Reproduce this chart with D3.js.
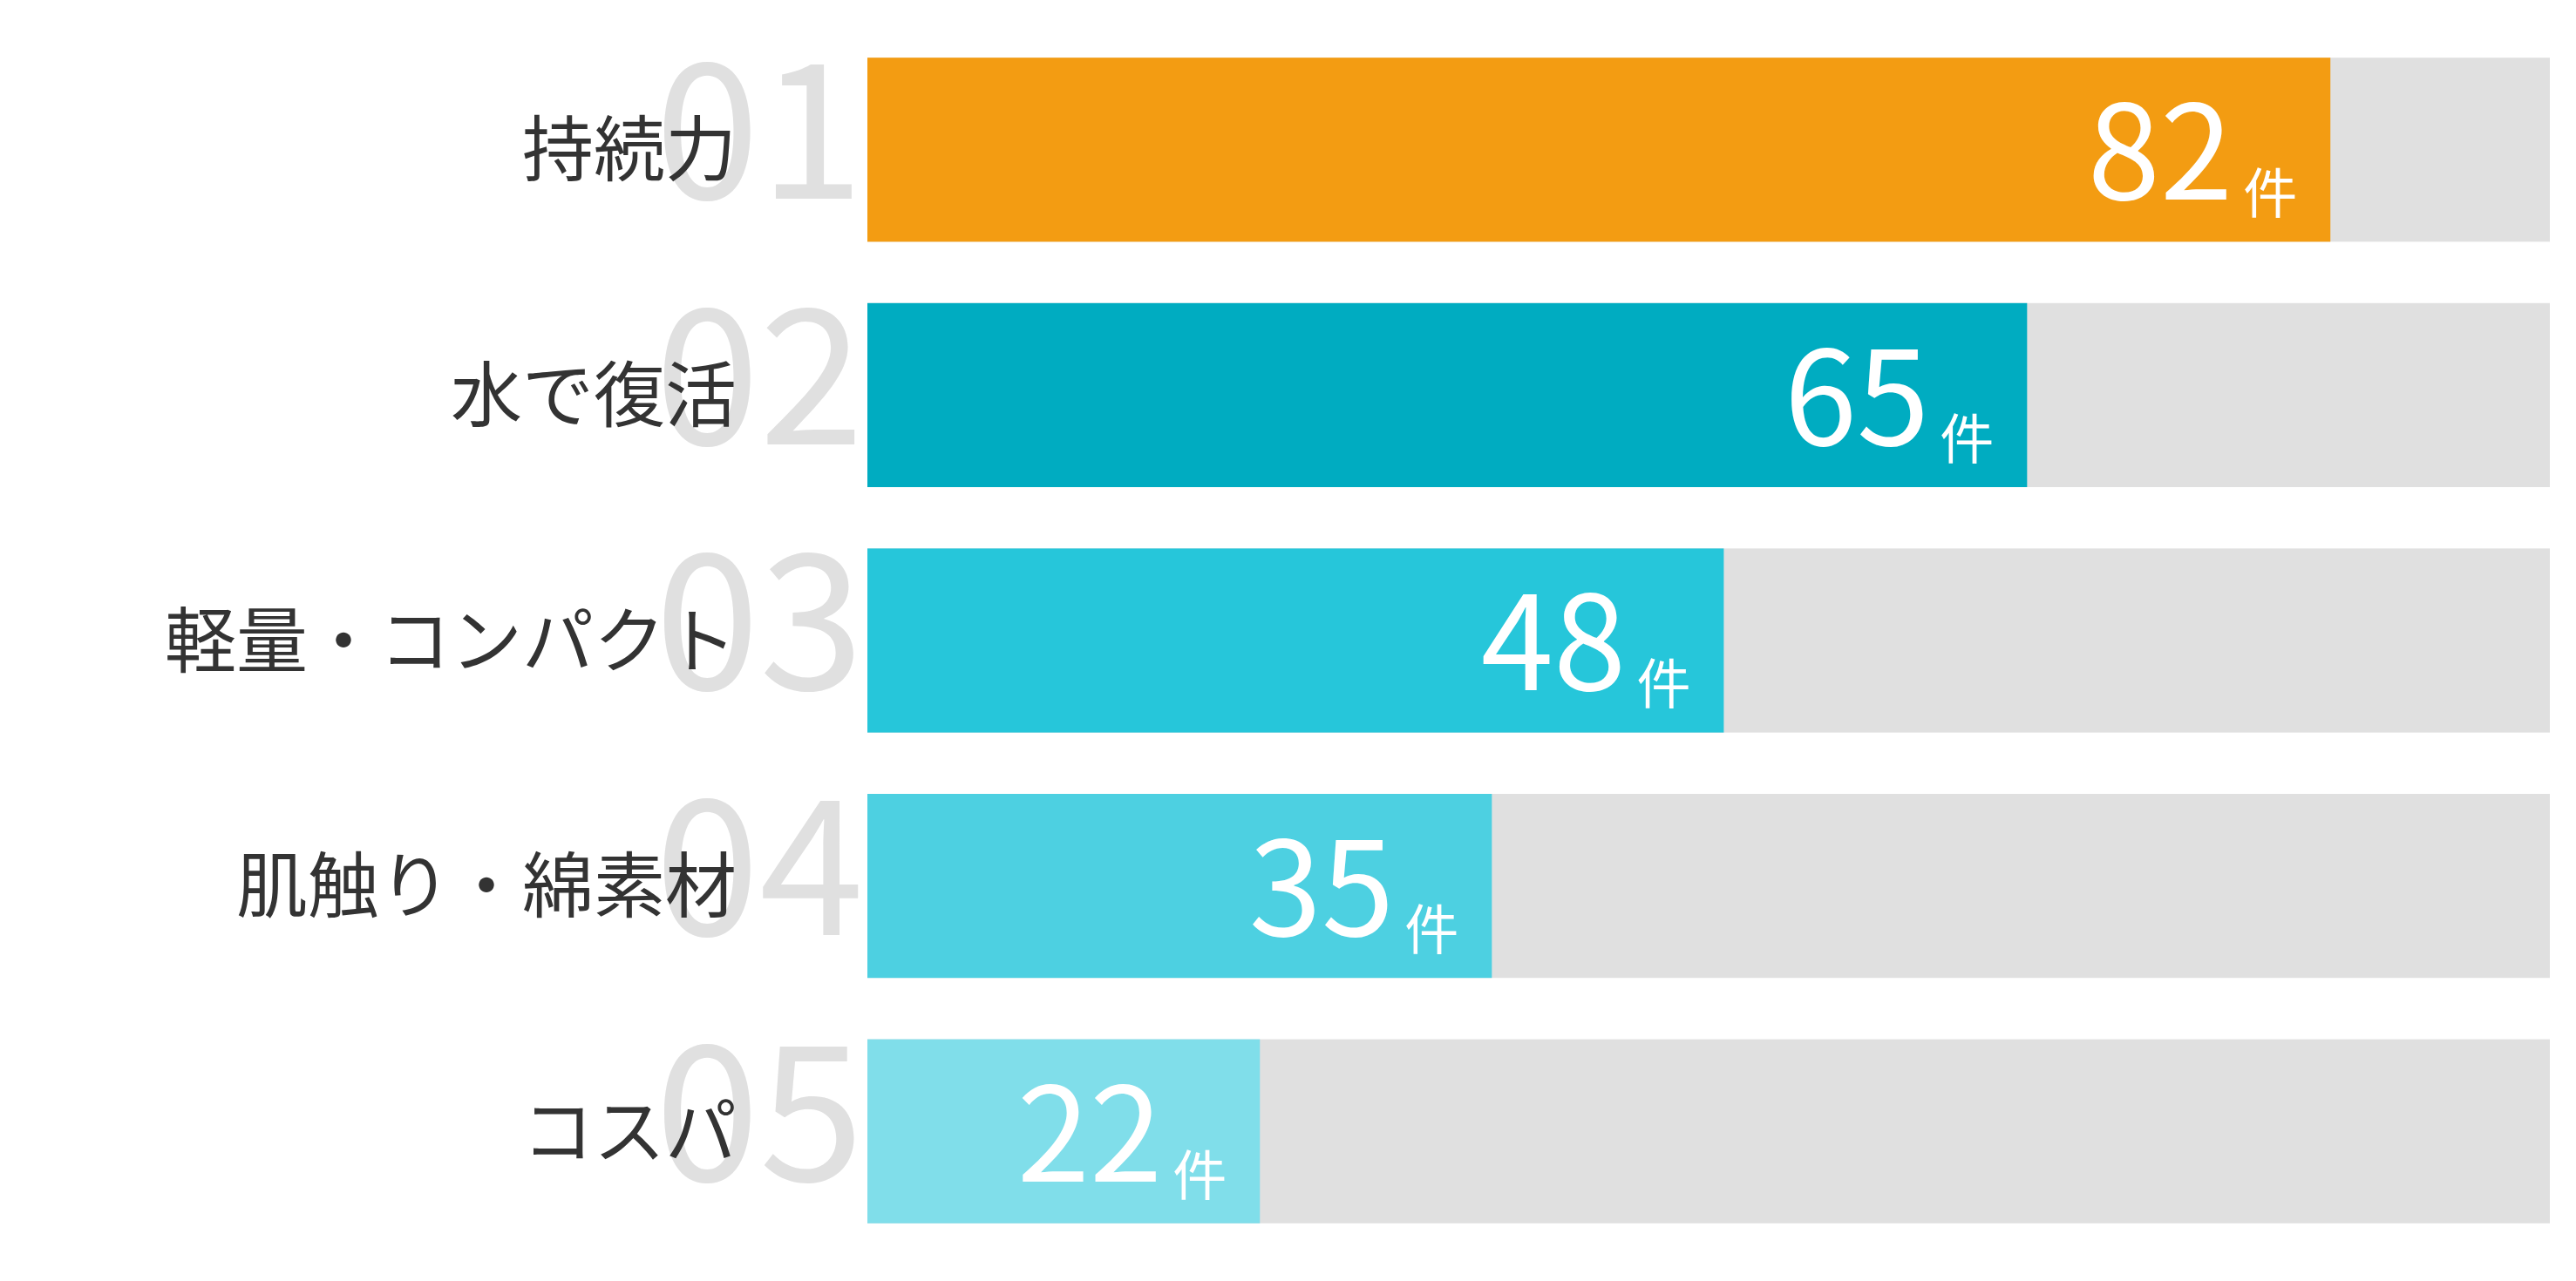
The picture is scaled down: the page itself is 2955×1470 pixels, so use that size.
<!DOCTYPE html>
<html>
<head>
<meta charset="utf-8">
<script src="https://cdn.jsdelivr.net/npm/d3@7"></script>
<style>
  html, body { margin: 0; padding: 0; background: #fff; }
  svg { display: block; }
</style>
</head>
<body>
<svg id="chart" width="2955" height="1470"></svg>
<script>
// data
var categories = ["持続力", "水で復活", "軽量・コンパクト", "肌触り・綿素材", "コスパ"];
var counts = [82, 65, 48, 35, 22];
var ranks = ["01", "02", "03", "04", "05"];
var unit = "件";
var colors = ["#f39c12", "#00acc1", "#26c6da", "#4dd0e1", "#80deea"];

var svg = d3.select("#chart"),
  width = +svg.attr("width"),
  height = +svg.attr("height"),
  font = "'Noto Sans CJK JP', 'Noto Sans', sans-serif";

var x = d3.scaleLinear()
  .domain([0, d3.max(counts) * 1.15])
  .range([995, 2925]);

var y = d3.scaleBand()
  .domain(categories)
  .range([31, 1439])
  .paddingInner(0.25)
  .paddingOuter(0.125);

var rows = categories.map(function (c, i) {
  return { name: c, value: counts[i], rank: ranks[i], color: colors[i] };
});

var g = svg.selectAll("g.row").data(rows).enter().append("g").attr("class", "row");

// big rank numbers behind the labels
g.append("text")
  .attr("x", x(0) - 4)
  .attr("y", function (d) { return y(d.name) + 162; })
  .attr("text-anchor", "end")
  .attr("font-family", font)
  .attr("font-size", 216)
  .attr("fill", "#e0e0e0")
  .text(function (d) { return d.rank; });

// category labels
g.append("text")
  .attr("x", 845)
  .attr("y", function (d) { return y(d.name) + y.bandwidth() / 2 - 6; })
  .attr("text-anchor", "end")
  .attr("dominant-baseline", "central")
  .attr("font-family", font)
  .attr("font-size", 82)
  .attr("fill", "#333")
  .text(function (d) { return d.name; });

// background track
g.append("rect")
  .attr("x", x(0))
  .attr("y", function (d) { return y(d.name); })
  .attr("width", x.range()[1] - x(0))
  .attr("height", y.bandwidth())
  .attr("fill", "#e0e0e0");

// value bar
g.append("rect")
  .attr("x", x(0))
  .attr("y", function (d) { return y(d.name); })
  .attr("width", function (d) { return x(d.value) - x(0); })
  .attr("height", y.bandwidth())
  .attr("fill", function (d) { return d.color; });

// value labels
var vt = g.append("text")
  .attr("x", function (d) { return x(d.value) - 38; })
  .attr("y", function (d) { return y(d.name) + 163; })
  .attr("text-anchor", "end")
  .attr("font-family", font)
  .attr("fill", "#fff");

vt.append("tspan")
  .attr("font-size", 150)
  .text(function (d) { return d.value; });

vt.append("tspan")
  .attr("font-size", 62)
  .attr("dx", 12)
  .attr("dy", 16)
  .text(unit);
</script>
</body>
</html>
